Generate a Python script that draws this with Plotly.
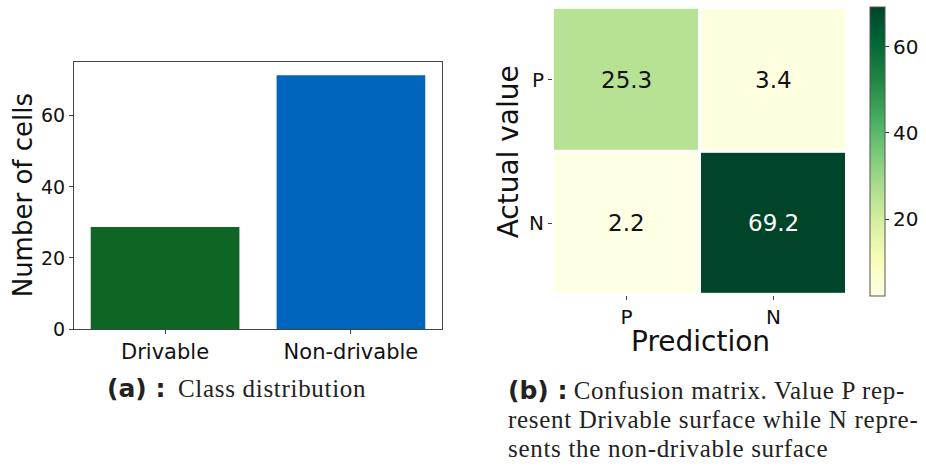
import plotly.graph_objects as go

W, H = 926, 469

# Panel (a): class distribution (percentage of cells)
classes = ["Drivable", "Non-drivable"]
class_share = [28.7, 71.4]
bar_colors = ["#0e6625", "#0066bd"]
share_ticks = [0, 20, 40, 60]

# Panel (b): confusion matrix (rows = actual, columns = prediction)
pred_labels = ["P", "N"]
actual_labels = ["P", "N"]
confusion = [[25.3, 3.4],
             [2.2, 69.2]]
cbar_ticks = [20, 40, 60]

# ColorBrewer YlGn (9 classes)
ylgn = ["#ffffe5", "#f7fcb9", "#d9f0a3", "#addd8e", "#78c679",
        "#41ab5d", "#238443", "#006837", "#004529"]

SANS = "DejaVu Sans"
SERIF = "Liberation Serif"


def fx(p):
    return p / W


def fy(p):
    return 1 - p / H


zmin = min(min(r) for r in confusion)
zmax = max(max(r) for r in confusion)

fig = go.Figure()

fig.add_trace(go.Bar(
    x=classes, y=class_share, width=0.8,
    marker=dict(color=bar_colors, line_width=0),
    xaxis="x", yaxis="y", showlegend=False, hoverinfo="x+y",
))

fig.add_trace(go.Heatmap(
    z=confusion, x=pred_labels, y=actual_labels,
    colorscale=[[i / (len(ylgn) - 1), c] for i, c in enumerate(ylgn)],
    zmin=zmin, zmax=zmax, xgap=3, ygap=3,
    xaxis="x2", yaxis="y2",
    colorbar=dict(
        x=fx(870), xanchor="left", xref="paper",
        y=fy(155), yanchor="middle", yref="paper",
        xpad=0, ypad=0,
        thickness=15, thicknessmode="pixels",
        len=296 / H, lenmode="fraction",
        outlinewidth=1, outlinecolor="#555555",
        ticks="outside", ticklen=4, tickcolor="#333333",
        tickvals=cbar_ticks,
        tickfont=dict(family=SANS, size=20, color="#111111"),
    ),
))

annotations = []

# cell values
mid = (zmin + zmax) / 2
for i, row_lab in enumerate(actual_labels):
    for j, col_lab in enumerate(pred_labels):
        v = confusion[i][j]
        annotations.append(dict(
            x=col_lab, y=row_lab, xref="x2", yref="y2",
            xanchor="center", yanchor="middle",
            text=f"{v:.1f}", showarrow=False,
            font=dict(family=SANS, size=23,
                      color="#ffffff" if v > mid else "#111111"),
        ))


def label(x, y, text, size, angle=0):
    return dict(x=fx(x), y=fy(y), xref="paper", yref="paper",
                xanchor="center", yanchor="middle",
                text=text, textangle=angle, showarrow=False,
                font=dict(family=SANS, size=size, color="#111111"))


# axis titles
annotations += [
    label(23, 200, "Number of cells", 26, -90),
    label(508, 156, "Actual value", 28, -90),
    label(700, 350, "Prediction", 28),
]

# sub-captions
bold = f'<span style="font-family:{SANS}"><b>{{}}</b></span>'
spaced = '<span style="letter-spacing:0.7px">{}</span>'


def caption(x, y, text):
    return dict(x=fx(x), y=fy(y), xref="paper", yref="paper",
                xanchor="left", yanchor="middle", showarrow=False,
                text=text,
                font=dict(family=SERIF, size=25, color="#222222"))


annotations += [
    caption(105, 398, bold.format("(a) :") + "  " + spaced.format("Class distribution")),
    caption(506, 400, bold.format("(b) :") + " " + spaced.format("Confusion matrix. Value P rep-")),
    caption(506, 430, spaced.format("resent Drivable surface while N repre-")),
    caption(506, 459, spaced.format("sents the non-drivable surface")),
]

spine = dict(showline=True, linecolor="#444444", linewidth=1, mirror=True)

fig.update_layout(
    width=W, height=H,
    margin=dict(l=0, r=0, t=0, b=0),
    paper_bgcolor="white", plot_bgcolor="white",
    showlegend=False,
    annotations=annotations,
    xaxis=dict(
        domain=[fx(74), fx(442)], anchor="y",
        range=[-0.49, 1.49], showgrid=False, zeroline=False,
        ticks="outside", ticklen=4, tickcolor="#444444",
        tickfont=dict(family=SANS, size=21, color="#111111"),
        **spine,
    ),
    yaxis=dict(
        domain=[fy(337), fy(64)], anchor="x",
        range=[0, max(class_share) * 1.05], tickvals=share_ticks,
        showgrid=False, zeroline=False,
        ticks="outside", ticklen=4, tickcolor="#444444",
        tickfont=dict(family=SANS, size=19, color="#111111"),
        **spine,
    ),
    xaxis2=dict(
        domain=[fx(553), fx(847)], anchor="y2",
        showgrid=False, zeroline=False, showline=False,
        ticks="outside", ticklen=4, tickcolor="#444444",
        tickfont=dict(family=SANS, size=20, color="#111111"),
    ),
    yaxis2=dict(
        domain=[fy(302), fy(8)], anchor="x2",
        autorange="reversed",
        showgrid=False, zeroline=False, showline=False,
        ticks="outside", ticklen=4, tickcolor="#444444",
        tickfont=dict(family=SANS, size=20, color="#111111"),
    ),
)

page_css = (
    "var s=document.createElement('style');"
    "s.textContent='html,body{margin:0;padding:0;overflow:hidden;"
    f"width:{W}px;height:{H}px;}}';"
    "document.head.appendChild(s);"
)

fig.write_html("out.html", post_script=page_css)
